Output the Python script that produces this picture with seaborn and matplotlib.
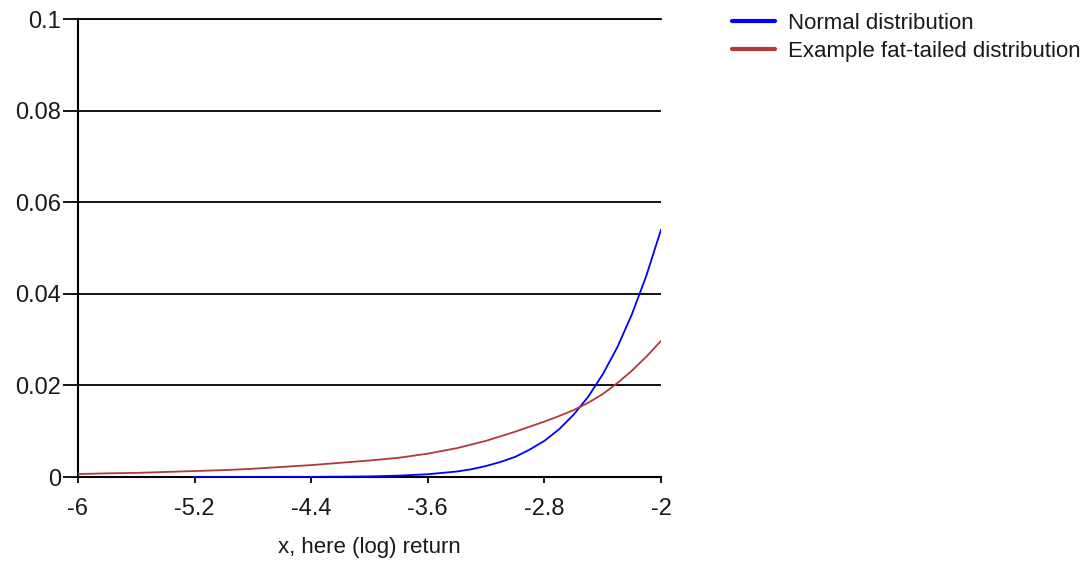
import numpy as np
import pandas as pd
import matplotlib
matplotlib.use("Agg")
import matplotlib.pyplot as plt
import seaborn as sns

sns.set_style("white")
plt.rcParams['font.family'] = ['Liberation Sans', 'DejaVu Sans']

# values
x_fat = [-6.0, -5.8, -5.6, -5.4, -5.2, -5.0, -4.8, -4.6, -4.4, -4.2, -4.0,
         -3.8, -3.6, -3.4, -3.2, -3.0, -2.9, -2.8, -2.7, -2.6, -2.5,
         -2.4, -2.3, -2.2, -2.1, -2.0]
y_fat = [0.00065, 0.0008, 0.0009, 0.0011, 0.0013, 0.0015, 0.0018, 0.0022, 0.0026, 0.0031, 0.0036,
         0.0042, 0.0051, 0.0063, 0.0079, 0.0099, 0.0110, 0.0121, 0.0133, 0.0146, 0.0162,
         0.0181, 0.0205, 0.0232, 0.0263, 0.0297]

x_norm = [-5.2, -4.8, -4.4, -4.0, -3.8, -3.6, -3.5, -3.4, -3.3, -3.2, -3.1, -3.0, -2.9, -2.8,
          -2.7, -2.6, -2.5, -2.4, -2.3, -2.2, -2.1, -2.0]
y_norm = [0.0, 0.0, 0.00002, 0.00013, 0.0003, 0.0006, 0.0009, 0.0012, 0.0017, 0.0024, 0.0033,
          0.0044, 0.0060, 0.0079, 0.0104, 0.0136, 0.0175, 0.0224, 0.0283, 0.0355, 0.0440, 0.0540]

x_ticks = [-6, -5.2, -4.4, -3.6, -2.8, -2]
x_tick_labels = ["-6", "-5.2", "-4.4", "-3.6", "-2.8", "-2"]
y_ticks = [0, 0.02, 0.04, 0.06, 0.08, 0.1]
y_tick_labels = ["0", "0.02", "0.04", "0.06", "0.08", "0.1"]

df_norm = pd.DataFrame({"x": x_norm, "y": y_norm})
df_fat = pd.DataFrame({"x": x_fat, "y": y_fat})

fig = plt.figure(figsize=(10.86, 5.62), dpi=100)
ax = fig.add_axes([78 / 1086, 85 / 562, 583 / 1086, 458 / 562])

sns.lineplot(data=df_norm, x="x", y="y", ax=ax, color="#0000ff", linewidth=1.3,
             label="Normal distribution", zorder=3)
sns.lineplot(data=df_fat, x="x", y="y", ax=ax, color="#b03a3a", linewidth=1.3,
             label="Example fat-tailed distribution", zorder=3)

ax.set_xlim(-6, -2)
ax.set_ylim(0, 0.1)
ax.set_xticks(x_ticks)
ax.set_xticklabels(x_tick_labels)
ax.set_yticks(y_ticks)
ax.set_yticklabels(y_tick_labels)

ax.spines["right"].set_visible(False)
ax.spines["top"].set_color("black")
ax.spines["top"].set_linewidth(1.3)
for s in ["left", "bottom"]:
    ax.spines[s].set_color("black")
    ax.spines[s].set_linewidth(1.5)

ax.yaxis.grid(True, color="black", linewidth=1.3)
ax.xaxis.grid(False)
ax.set_axisbelow(True)
ax.tick_params(axis="y", direction="out", length=11, width=1.3, color="black",
               labelsize=17, pad=1, labelcolor="#1a1a1a", left=True)
ax.tick_params(axis="x", direction="out", length=4, width=1.3, color="black",
               labelsize=17, pad=11, labelcolor="#1a1a1a", bottom=True)

ax.set_xlabel("x, here (log) return", fontsize=16, color="#1a1a1a", labelpad=12)
ax.set_ylabel("")

handles, labels = ax.get_legend_handles_labels()
ax.get_legend().remove()
leg = fig.legend(handles, labels, loc="upper left", bbox_to_anchor=(732 / 1086, 0.977),
                 frameon=False, fontsize=16, handlelength=1.95, handletextpad=0.55,
                 labelspacing=0.33, borderaxespad=0, borderpad=0)
for line in leg.get_lines():
    line.set_linewidth(3)
for t in leg.get_texts():
    t.set_color("#1a1a1a")

fig.savefig("out.png", dpi=100)
